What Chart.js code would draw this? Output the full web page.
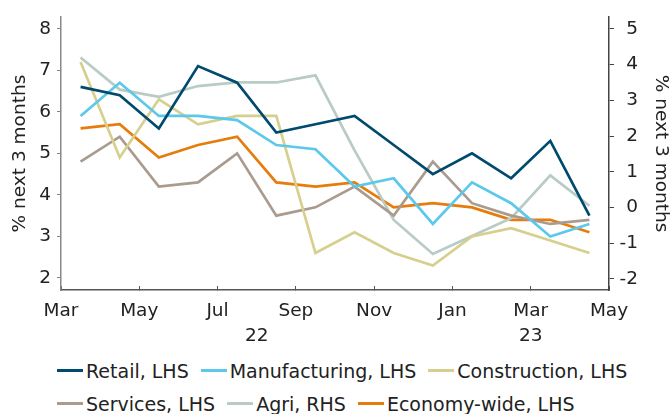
<!DOCTYPE html>
<html>
<head>
<meta charset="utf-8">
<script src="https://cdn.jsdelivr.net/npm/chart.js@4.4.1/dist/chart.umd.min.js"></script>
<style>
  body { margin: 0; background: #fff; font-family: "DejaVu Sans", Verdana, sans-serif; }
  #wrap { position: relative; width: 671px; height: 414px; }
  #chart { position: absolute; left: 0; top: 0; }
  #legend { position: absolute; left: 57px; top: 354px; font-size: 19px; color: #222; }
  .row { display: flex; align-items: center; height: 33px; white-space: nowrap; }
  .item { display: flex; align-items: center; margin-right: 12px; }
  .swatch { width: 26px; height: 3px; margin-right: 3px; }
</style>
</head>
<body>
<div id="wrap">
  <canvas id="chart" width="671" height="350"></canvas>
  <div id="legend"></div>
</div>
<script>
// monthly readings, Mar 2022 .. Apr 2023
const months = ['Mar 22','Apr 22','May 22','Jun 22','Jul 22','Aug 22','Sep 22','Oct 22','Nov 22','Dec 22','Jan 23','Feb 23','Mar 23','Apr 23'];

const retail        = [6.6, 6.4, 5.6, 7.1, 6.7, 5.5, 5.7, 5.9, 5.2, 4.5, 5.0, 4.4, 5.3, 3.5];
const manufacturing = [5.9, 6.7, 5.9, 5.9, 5.8, 5.2, 5.1, 4.2, 4.4, 3.3, 4.3, 3.8, 3.0, 3.3];
const construction  = [7.2, 4.9, 6.3, 5.7, 5.9, 5.9, 2.6, 3.1, 2.6, 2.3, 3.0, 3.2, 2.9, 2.6];
const services      = [4.8, 5.4, 4.2, 4.3, 5.0, 3.5, 3.7, 4.2, 3.5, 4.8, 3.8, 3.5, 3.3, 3.4];
const agri          = [4.2, 3.3, 3.1, 3.4, 3.5, 3.5, 3.7, 1.6, -0.35, -1.3, -0.8, -0.3, 0.9, 0.05]; // RHS
const economy       = [5.6, 5.7, 4.9, 5.2, 5.4, 4.3, 4.2, 4.3, 3.7, 3.8, 3.7, 3.4, 3.4, 3.1];

// x axis labels every two months, years under them
const tickLabels = ['Mar', 'May', 'Jul', 'Sep', 'Nov', 'Jan', 'Mar', 'May'];
const years = ['22', '23'];
const yearAt = [5, 12];   // month index (from Mar 22) where the year label sits

const font = { family: '"DejaVu Sans", Verdana, sans-serif', size: 18.5 };
const textColor = '#222';

// points sit in the middle of their month
function series(values) {
  return values.map((v, i) => ({ x: i + 0.5, y: v }));
}

const datasets = [
  { label: 'Retail, LHS',        data: series(retail),        borderColor: '#004a6e', yAxisID: 'y' },
  { label: 'Manufacturing, LHS', data: series(manufacturing), borderColor: '#5bc8ec', yAxisID: 'y' },
  { label: 'Construction, LHS',  data: series(construction),  borderColor: '#d6cf8e', yAxisID: 'y' },
  { label: 'Services, LHS',      data: series(services),      borderColor: '#aa9b8f', yAxisID: 'y' },
  { label: 'Agri, RHS',          data: series(agri),          borderColor: '#b8cbc4', yAxisID: 'y1' },
  { label: 'Economy-wide, LHS',  data: series(economy),       borderColor: '#e57c0b', yAxisID: 'y' }
];
datasets.forEach(d => {
  d.borderWidth = 2.7;
  d.pointRadius = 0;
  d.tension = 0;
  d.fill = false;
});

const yearPlugin = {
  id: 'yearLabels',
  afterDraw(chart) {
    const ctx = chart.ctx;
    const xs = chart.scales.x;
    ctx.save();
    ctx.font = font.size + 'px ' + font.family;
    ctx.fillStyle = textColor;
    ctx.textAlign = 'center';
    ctx.textBaseline = 'middle';
    years.forEach((y, i) => ctx.fillText(y, xs.getPixelForValue(yearAt[i]), 336));
    ctx.restore();
  }
};

new Chart(document.getElementById('chart'), {
  type: 'line',
  data: { datasets: datasets },
  plugins: [yearPlugin],
  options: {
    responsive: false,
    animation: false,
    layout: { padding: { top: 9, right: 33, left: 0, bottom: 0 } },
    plugins: { legend: { display: false }, tooltip: { enabled: false } },
    scales: {
      x: {
        type: 'linear',
        min: 0,
        max: months.length,
        afterFit: s => { s.height = 60; },
        afterBuildTicks: s => { s.ticks = tickLabels.map((t, i) => ({ value: i * 2 })); },
        ticks: {
          font: font, color: textColor, padding: 14, maxRotation: 0,
          callback: (v) => tickLabels[v / 2]
        },
        grid: { drawOnChartArea: false, tickLength: -4, color: '#555' },
        border: { color: '#555', width: 1.5 }
      },
      y: {
        position: 'left',
        min: 1.71, max: 8.28,
        afterFit: s => { s.width = 61; },
        ticks: { stepSize: 1, includeBounds: false, font: font, color: textColor, padding: 6 },
        grid: { drawOnChartArea: false, tickLength: 4, color: '#888' },
        border: { color: '#888', width: 1.5 },
        title: { display: true, text: '% next 3 months', font: font, color: textColor, padding: { top: 9, bottom: 0 } }
      },
      y1: {
        position: 'right',
        min: -2.31, max: 5.33,
        afterFit: s => { s.width = 29; },
        ticks: { stepSize: 1, includeBounds: false, font: font, color: textColor, padding: 4, crossAlign: 'far' },
        grid: { drawOnChartArea: false, tickLength: 5, color: '#444' },
        border: { color: '#444', width: 1.5 },
        title: { display: true, text: '% next 3 months', font: font, color: textColor, padding: { top: -34, bottom: 0 } }
      }
    }
  }
});

// legend in two rows of three, as in the original
const legend = document.getElementById('legend');
[datasets.slice(0, 3), datasets.slice(3)].forEach(group => {
  const row = document.createElement('div');
  row.className = 'row';
  group.forEach(d => {
    const item = document.createElement('div');
    item.className = 'item';
    const sw = document.createElement('span');
    sw.className = 'swatch';
    sw.style.background = d.borderColor;
    item.appendChild(sw);
    item.appendChild(document.createTextNode(d.label));
    row.appendChild(item);
  });
  legend.appendChild(row);
});
</script>
</body>
</html>
